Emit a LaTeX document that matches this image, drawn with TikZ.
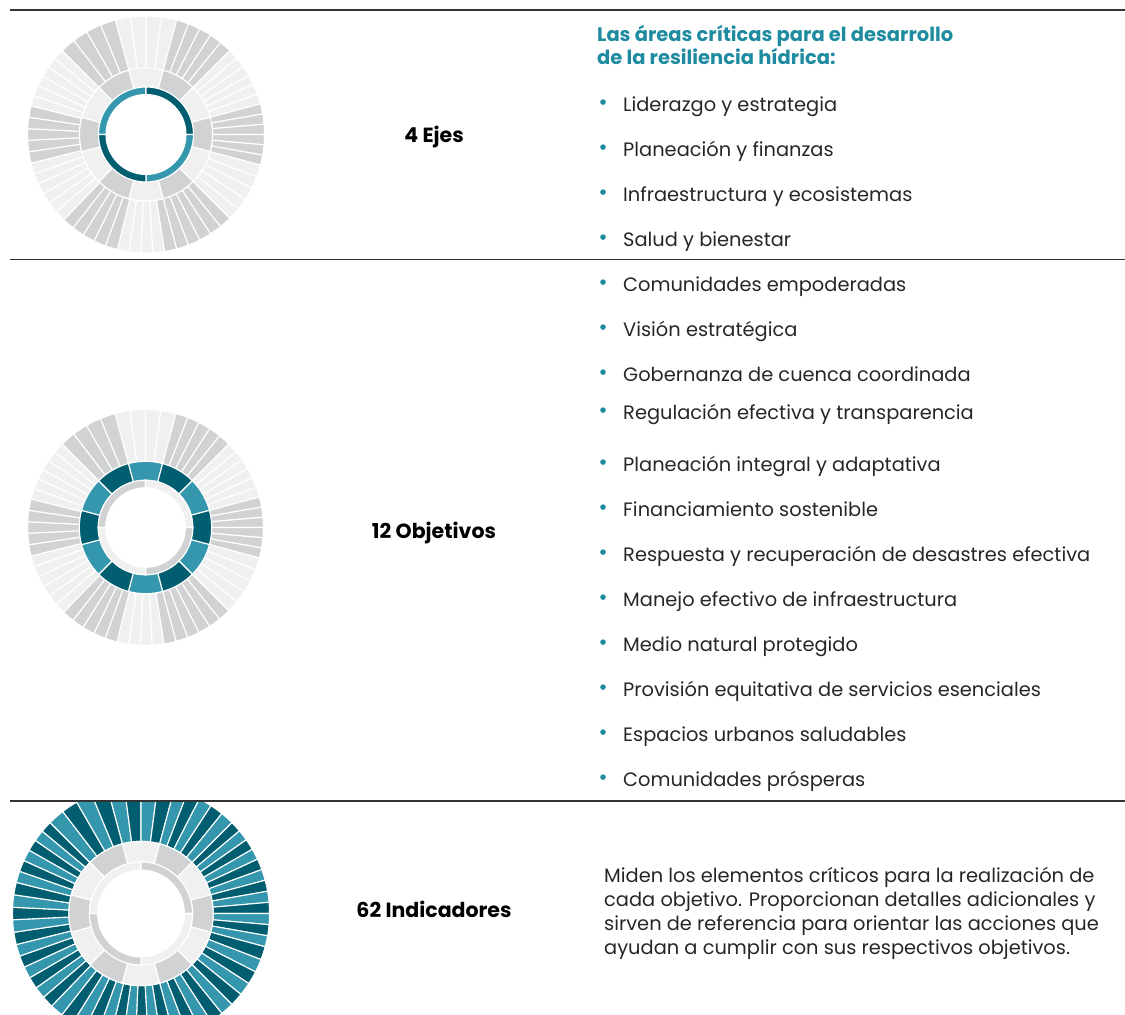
\documentclass[tikz,border=0pt]{standalone}
\usepackage{fontspec}
\setmainfont{Poppins}
\usepackage{tikz}

\definecolor{gris}{HTML}{D1D2D4}
\definecolor{grisclaro}{HTML}{EFF0EF}
\definecolor{azul}{HTML}{3597AD}
\definecolor{azuloscuro}{HTML}{005E70}
\definecolor{titulo}{HTML}{1F8BA0}
\definecolor{linea}{HTML}{333333}

\tikzset{
  corte/.style={draw=white, line width=1.1pt},
  regla/.style={draw=linea, line width=1.6pt},
  etiqueta/.style={font=\fontsize{20.5}{24}\selectfont\bfseries, anchor=base},
  encabezado/.style={font=\fontsize{19.5}{23}\selectfont\bfseries, text=titulo, anchor=base west, inner sep=0pt},
  item/.style={font=\fontsize{19.4}{23}\selectfont, text=black!85, anchor=base west, inner sep=0pt},
  punto/.style={circle, fill=titulo, inner sep=0pt, minimum size=5.6pt},
}

% ring piece: colour, start angle, end angle, inner radius, outer radius
\newcommand{\anillo}[5]{%
  \filldraw[fill=#1, corte] (#2:#5) arc[start angle=#2, end angle=#3, radius=#5]
    -- (#3:#4) arc[start angle=#3, end angle=#2, radius=#4] -- cycle;}

% outer ring, 62 pieces in 12 groups; #1=0 grey groups, #1=1 blue pieces
\newcommand{\exterior}[1]{%
  \foreach \a/\b/\n/\k [count=\g] in {105/75/4/0, 75/45/5/4, 45/15/6/9,
      15/-15/6/15, -15/-45/5/21, -45/-81/6/26, -81/-104/4/32, -104/-134/5/36,
      -134/-166/6/41, -166/-194/5/47, -194/-225/6/52, -225/-255/4/58} {
    \pgfmathsetmacro\paso{(\b-\a)/\n}
    \foreach \j in {1,...,\n} {
      \pgfmathsetmacro\ini{\a+(\j-1)*\paso}
      \pgfmathsetmacro\fin{\a+\j*\paso}
      \pgfmathtruncatemacro\idx{\k+\j-1}
      \ifnum#1=0
        \ifodd\g\relax\def\col{grisclaro}\else\def\col{gris}\fi
      \else
        \ifodd\idx\relax\def\col{azuloscuro}\else\def\col{azul}\fi
      \fi
      \anillo{\col}{\ini}{\fin}{66.5}{118.5}
    }
  }}

% middle ring, 12 pieces
\newcommand{\medio}[2]{%
  \foreach \k in {0,...,11} {
    \pgfmathsetmacro\ini{105-30*\k}
    \pgfmathsetmacro\fin{75-30*\k}
    \ifodd\k\relax\def\col{#2}\else\def\col{#1}\fi
    \anillo{\col}{\ini}{\fin}{47.5}{66.5}
  }}

% inner ring, quadrants UL, UR, LR, LL
\newcommand{\interior}[4]{%
  \anillo{#1}{90}{180}{40}{47.5}
  \anillo{#2}{0}{90}{40}{47.5}
  \anillo{#3}{270}{360}{40}{47.5}
  \anillo{#4}{180}{270}{40}{47.5}}

\begin{document}
\begin{tikzpicture}[x=1pt, y=1pt]
\useasboundingbox (0,0) rectangle (1125,1015);

% separators
\draw [regla] (10,1004.8)--(1125,1004.8);
\draw [regla] (10,755.5)--(1125,755.5);
\draw [regla] (10,214.2)--(1125,214.2);

% axes
\begin{scope}[shift={(146,880.5)}]
  \exterior{0}
  \medio{grisclaro}{gris}
  \interior{azul}{azuloscuro}{azul}{azuloscuro}
\end{scope}

% objectives
\begin{scope}[shift={(145.5,487.5)}, scale=0.995]
  \exterior{0}
  \medio{azul}{azuloscuro}
  \interior{gris}{grisclaro}{gris}{grisclaro}
\end{scope}

% indicators
\begin{scope}
  \clip (0,0) rectangle (300,212.5);
  \begin{scope}[shift={(141,101.5)}, scale=1.085]
    \exterior{1}
    \medio{grisclaro}{gris}
    \interior{grisclaro}{gris}{grisclaro}{gris}
  \end{scope}
\end{scope}

% labels
\node [etiqueta] (ejes) at (434,872) {4 Ejes};
\node [etiqueta] (objetivos) at (434,476) {12 Objetivos};
\node [etiqueta] (indicadores) at (434,97) {62 Indicadores};

% heading
\node [encabezado] (tit1) at (597,973.3) {Las áreas críticas para el desarrollo};
\node [encabezado] (tit2) at (597,950) {de la resiliencia hídrica:};

% list
\foreach \y/\txt [count=\i] in {
    903.5/Liderazgo y estrategia,
    858.5/Planeación y finanzas,
    813.5/Infraestructura y ecosistemas,
    768.5/Salud y bienestar,
    723.5/Comunidades empoderadas,
    678.5/Visión estratégica,
    633.5/Gobernanza de cuenca coordinada,
    595.5/Regulación efectiva y transparencia,
    543.5/Planeación integral y adaptativa,
    498.5/Financiamiento sostenible,
    453.5/Respuesta y recuperación de desastres efectiva,
    408.5/Manejo efectivo de infraestructura,
    363.5/Medio natural protegido,
    318.5/Provisión equitativa de servicios esenciales,
    273.5/Espacios urbanos saludables,
    228.5/Comunidades prósperas} {
  \node [punto] (p\i) at (603,\y+9.4) {};
  \node [item] (t\i) at (623,\y) {\txt};
}

% description
\foreach \y/\txt [count=\i] in {
    132.5/Miden los elementos críticos para la realización de,
    108.5/cada objetivo. Proporcionan detalles adicionales y,
    84.5/sirven de referencia para orientar las acciones que,
    60.5/ayudan a cumplir con sus respectivos objetivos.} {
  \node [item] (d\i) at (604,\y) {\txt};
}
\end{tikzpicture}
\end{document}
